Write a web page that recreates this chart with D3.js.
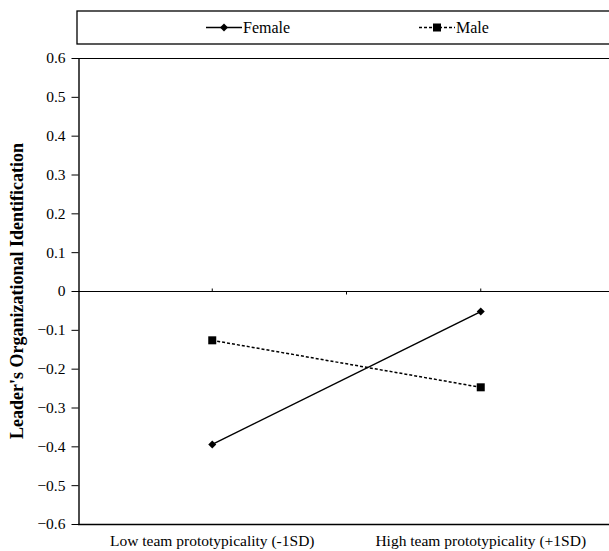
<!DOCTYPE html>
<html>
<head>
<meta charset="utf-8">
<script src="https://cdn.jsdelivr.net/npm/d3@7"></script>
<style>
  body { margin: 0; background: #fff; }
  svg { display: block; }
  svg text { font-family: "Liberation Serif", "Times New Roman", serif; }
</style>
</head>
<body>
<div id="chart"></div>
<script>
// data
var categories = ["Low team prototypicality (-1SD)", "High team prototypicality (+1SD)"];
var seriesNames = ["Female", "Male"];
var femaleValues = [-0.395, -0.053];
var maleValues = [-0.127, -0.248];
var yTicks = [0.6, 0.5, 0.4, 0.3, 0.2, 0.1, 0, -0.1, -0.2, -0.3, -0.4, -0.5, -0.6];

var W = 609, H = 551;
var margin = {left: 78, right: 615, top: 58, bottom: 524};

var svg = d3.select("#chart").append("svg")
    .attr("width", W)
    .attr("height", H);

// categories sit in the middle of each slot (Excel style)
var x = d3.scalePoint()
    .domain(categories)
    .range([margin.left, margin.right])
    .padding(0.5);
var y = d3.scaleLinear()
    .domain([-0.6, 0.6])
    .range([margin.bottom, margin.top]);

// legend box
svg.append("rect")
    .attr("x", 77).attr("y", 11)
    .attr("width", 560).attr("height", 33)
    .attr("fill", "#fff").attr("stroke", "#000").attr("stroke-width", 1.3);

var legend = [
    {name: seriesNames[0], x: 206, dash: null, marker: "diamond"},
    {name: seriesNames[1], x: 419, dash: "3,2", marker: "square"}
];
legend.forEach(function(l){
    var g = svg.append("g");
    g.append("line")
        .attr("x1", l.x).attr("x2", l.x + 36)
        .attr("y1", 27.5).attr("y2", 27.5)
        .attr("stroke", "#000").attr("stroke-width", 1.4)
        .attr("stroke-dasharray", l.dash);
    drawMarker(g, l.x + 18, 27.5, l.marker);
    g.append("text")
        .attr("x", l.x + 37).attr("y", 33)
        .attr("font-size", 16)
        .text(l.name);
});

// plot frame: top and bottom
svg.append("line")
    .attr("x1", margin.left).attr("x2", W).attr("y1", margin.top + 0.5).attr("y2", margin.top + 0.5)
    .attr("stroke", "#000").attr("stroke-width", 1.2);
svg.append("line")
    .attr("x1", margin.left).attr("x2", W).attr("y1", margin.bottom + 0.5).attr("y2", margin.bottom + 0.5)
    .attr("stroke", "#000").attr("stroke-width", 1.4);

// y axis
var yAxis = svg.append("g")
    .attr("transform", "translate(" + (margin.left + 0.5) + ",0)")
    .call(d3.axisLeft(y).tickValues(yTicks).tickSize(7).tickSizeOuter(0)
        .tickFormat(function(d){ return d === 0 ? "0" : d3.format(".1f")(d); }));
yAxis.attr("font-family", null);
yAxis.select(".domain").attr("stroke-width", 1.4);
yAxis.selectAll("text")
    .style("font-family", "'Liberation Serif', 'Times New Roman', serif")
    .style("font-size", "15.5px")
    .attr("fill", "#000")
    .attr("x", -13);

// category axis crossing at 0
var zeroY = Math.round(y(0)) + 0.5;
svg.append("line")
    .attr("x1", margin.left).attr("x2", W).attr("y1", zeroY).attr("y2", zeroY)
    .attr("stroke", "#000").attr("stroke-width", 1.2);
categories.forEach(function(c){
    svg.append("line")
        .attr("x1", x(c)).attr("x2", x(c))
        .attr("y1", zeroY).attr("y2", zeroY - 3)
        .attr("stroke", "#000");
});
var midX = (x(categories[0]) + x(categories[1])) / 2;
svg.append("line")
    .attr("x1", midX).attr("x2", midX)
    .attr("y1", zeroY).attr("y2", zeroY + 3)
    .attr("stroke", "#000");

// category labels at the bottom
svg.selectAll(".catlabel")
    .data(categories).enter()
    .append("text")
    .attr("class", "catlabel")
    .attr("x", function(d){ return x(d); })
    .attr("y", 546)
    .attr("text-anchor", "middle")
    .attr("font-size", 15.5)
    .text(function(d){ return d; });

// y axis title
svg.append("text")
    .attr("transform", "translate(23," + ((margin.top + margin.bottom) / 2) + ") rotate(-90)")
    .attr("text-anchor", "middle")
    .attr("font-size", 18)
    .attr("font-weight", "bold")
    .text("Leader's Organizational Identification");

// series
var series = [
    {values: femaleValues, dash: null, marker: "diamond"},
    {values: maleValues, dash: "3,2", marker: "square"}
];
var line = d3.line()
    .x(function(d, i){ return x(categories[i]); })
    .y(function(d){ return y(d); });
series.forEach(function(s){
    svg.append("path")
        .attr("d", line(s.values))
        .attr("fill", "none")
        .attr("stroke", "#000")
        .attr("stroke-width", 1.5)
        .attr("stroke-dasharray", s.dash);
    s.values.forEach(function(v, i){
        drawMarker(svg, x(categories[i]), y(v), s.marker);
    });
});

function drawMarker(g, cx, cy, type){
    if(type === "diamond"){
        g.append("path")
            .attr("d", "M" + cx + "," + (cy - 4) + "L" + (cx + 4) + "," + cy + "L" + cx + "," + (cy + 4) + "L" + (cx - 4) + "," + cy + "Z")
            .attr("fill", "#000");
    } else {
        g.append("rect")
            .attr("x", cx - 4).attr("y", cy - 4)
            .attr("width", 8).attr("height", 8)
            .attr("fill", "#000");
    }
}
</script>
</body>
</html>
